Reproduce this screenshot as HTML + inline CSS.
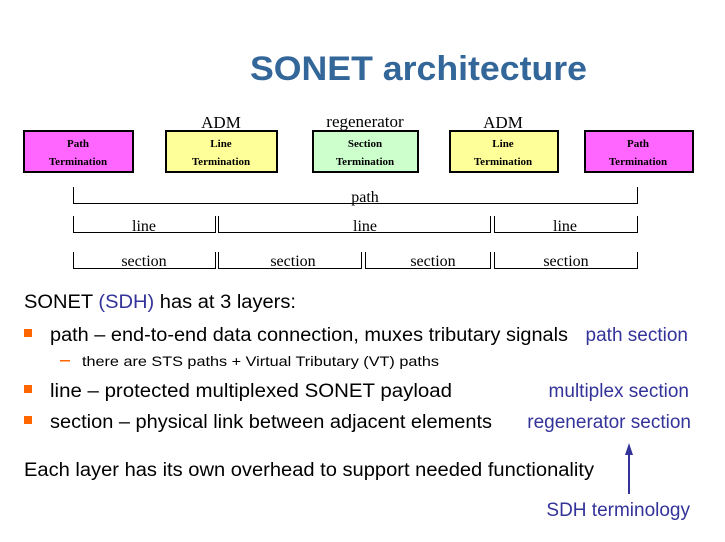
<!DOCTYPE html>
<html><head><meta charset="utf-8"><style>
html,body{margin:0;padding:0;background:#fff;}
svg{display:block;}
</style></head><body>
<svg width="725" height="542" viewBox="0 0 725 542" xmlns="http://www.w3.org/2000/svg">
<text x="250" y="80" font-family="Liberation Sans, sans-serif" font-weight="bold" font-size="34" fill="#336699" textLength="337" lengthAdjust="spacingAndGlyphs">SONET architecture</text>

<g font-family="Liberation Serif, serif" font-size="17" fill="#000" text-anchor="middle">
<text x="221" y="128">ADM</text>
<text x="365" y="127">regenerator</text>
<text x="503" y="128">ADM</text>
</g>
<g stroke="#000" stroke-width="2">
<rect x="24" y="131" width="109" height="41" fill="#ff66ff"/>
<rect x="166" y="131" width="111" height="41" fill="#ffff99"/>
<rect x="313" y="131" width="105" height="41" fill="#ccffcc"/>
<rect x="450" y="131" width="108" height="41" fill="#ffff99"/>
<rect x="585" y="131" width="108" height="41" fill="#ff66ff"/>
</g>
<g font-family="Liberation Serif, serif" font-size="11" font-weight="bold" fill="#000" text-anchor="middle">
<text x="78" y="147">Path</text><text x="78" y="165">Termination</text>
<text x="221" y="147">Line</text><text x="221" y="165">Termination</text>
<text x="365" y="147">Section</text><text x="365" y="165">Termination</text>
<text x="503" y="147">Line</text><text x="503" y="165">Termination</text>
<text x="638" y="147">Path</text><text x="638" y="165">Termination</text>
</g>

<g stroke="#000" stroke-width="1" fill="none">
<path d="M73.5 187V203.5H637.5V187"/>
<path d="M73.5 216V232.5H215.5V216"/>
<path d="M218.5 216V232.5H490.5V216"/>
<path d="M494.5 216V232.5H637.5V216"/>
<path d="M73.5 252V268.5H215.5V252"/>
<path d="M218.5 252V268.5H361.5V252"/>
<path d="M365.5 252V268.5H490.5V252"/>
<path d="M494.5 252V268.5H637.5V252"/>
</g>
<g font-family="Liberation Serif, serif" font-size="16" fill="#000" text-anchor="middle">
<text x="365" y="202">path</text>
<text x="144" y="231">line</text>
<text x="365" y="231">line</text>
<text x="565" y="231">line</text>
<text x="144" y="266">section</text>
<text x="293" y="266">section</text>
<text x="433" y="266">section</text>
<text x="566" y="266">section</text>
</g>

<g font-family="Liberation Sans, sans-serif" font-size="19" fill="#000">
<text x="24" y="308" textLength="272" lengthAdjust="spacingAndGlyphs">SONET <tspan fill="#333399">(SDH)</tspan> has at 3 layers:</text>
<text x="50" y="341" textLength="518" lengthAdjust="spacingAndGlyphs">path – end-to-end data connection, muxes tributary signals</text>
<text x="50" y="397" textLength="402" lengthAdjust="spacingAndGlyphs">line –  protected multiplexed SONET payload</text>
<text x="50" y="428" textLength="442" lengthAdjust="spacingAndGlyphs">section – physical link between adjacent elements</text>
<text x="24" y="476" textLength="570" lengthAdjust="spacingAndGlyphs">Each layer has its own overhead to support needed functionality</text>
</g>
<g fill="#ff6600">
<rect x="24" y="329" width="8" height="8"/>
<rect x="24" y="385" width="8" height="8"/>
<rect x="24" y="416" width="8" height="8"/>
<rect x="60" y="360" width="10" height="1.5"/>
</g>
<text x="82" y="366" font-family="Liberation Sans, sans-serif" font-size="14" fill="#000" textLength="357" lengthAdjust="spacingAndGlyphs">there are STS paths + Virtual Tributary (VT) paths</text>

<g font-family="Liberation Sans, sans-serif" font-size="19" fill="#333399" text-anchor="end">
<text x="688" y="341">path section</text>
<text x="689" y="397">multiplex section</text>
<text x="691" y="428">regenerator section</text>
<text x="690" y="516">SDH terminology</text>
</g>
<line x1="629" y1="452" x2="629" y2="494" stroke="#333399" stroke-width="2"/>
<polygon points="629,443 625,455 633,455" fill="#333399"/>
</svg>
</body></html>
